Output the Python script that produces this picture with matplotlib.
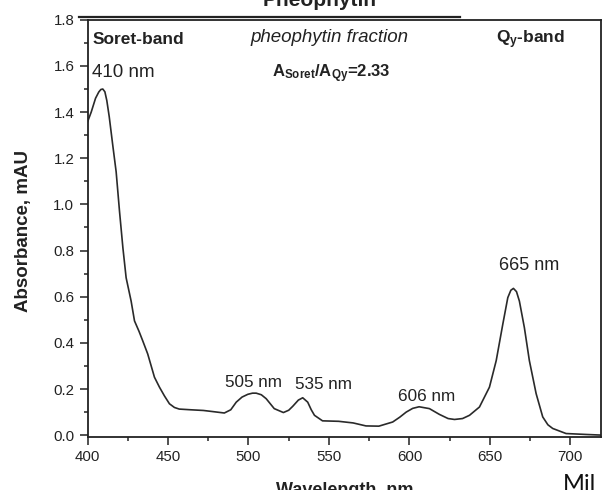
import matplotlib
matplotlib.use('Agg')
import matplotlib.pyplot as plt
from matplotlib.ticker import MultipleLocator, FormatStrFormatter
from matplotlib.patches import Rectangle
from matplotlib.lines import Line2D

# absorption spectrum
wavelength = [400, 402.3, 405, 407, 408.3, 409.5, 410.8, 412, 413.5, 415.7, 417.8, 419.9,
              422, 424, 427.1, 429.2, 432, 434.3, 437.4, 441.6, 444.7, 447.8, 450.9, 454,
              457, 464, 472, 478, 485, 489, 492.4, 496, 499.6, 502.5, 504.8, 508, 511, 516,
              521.7, 525, 527.5, 531, 533.7, 536.8, 539, 541, 546, 556, 565, 573, 581,
              589.6, 594, 598, 602, 606, 612.4, 618.6, 624, 628, 633, 637.3, 643.5, 649.7,
              653.9, 658, 661.1, 663, 664.6, 666.5, 668.3, 671.4, 674.5, 678.7, 682.8, 686,
              689, 697.3, 709.7, 720]
absorbance = [1.357, 1.40, 1.46, 1.487, 1.498, 1.50, 1.488, 1.45, 1.38, 1.256, 1.141, 0.969,
              0.811, 0.682, 0.581, 0.495, 0.45, 0.409, 0.352, 0.251, 0.208, 0.17, 0.136,
              0.12, 0.113, 0.110, 0.107, 0.102, 0.096, 0.11, 0.143, 0.165, 0.177, 0.182,
              0.182, 0.175, 0.158, 0.115, 0.098, 0.108, 0.125, 0.152, 0.162, 0.143, 0.11,
              0.086, 0.062, 0.060, 0.053, 0.040, 0.039, 0.057, 0.078, 0.10, 0.116, 0.123,
              0.115, 0.09, 0.072, 0.068, 0.072, 0.086, 0.122, 0.208, 0.323, 0.481, 0.596,
              0.628, 0.636, 0.622, 0.581, 0.466, 0.323, 0.18, 0.079, 0.045, 0.029, 0.007,
              0.003, 0.0]

peak_labels = ['410 nm', '505 nm', '535 nm', '606 nm', '665 nm']
peak_x = [403.1, 485.7, 529.2, 592.9, 655.6]
peak_y = [1.553, 0.208, 0.198, 0.150, 0.716]
peak_size = [13.5, 12.3, 12.3, 12.3, 13]

plt.rcParams['font.family'] = ['Liberation Sans', 'DejaVu Sans']
plt.rcParams['mathtext.fontset'] = 'custom'
plt.rcParams['mathtext.rm'] = 'Liberation Sans'
plt.rcParams['mathtext.it'] = 'Liberation Sans:italic'
plt.rcParams['mathtext.bf'] = 'Liberation Sans:bold'

W, H = 606, 490
fig = plt.figure(figsize=(W / 100, H / 100), dpi=100)
ax = fig.add_axes([87.5 / W, 1 - 437 / H, (601 - 87.5) / W, (437 - 19.8) / H])

ax.plot(wavelength, absorbance, color='#2a2a2a', lw=1.2)

ax.set_xlim(400, 719)
ax.set_ylim(-0.008, 1.8)
ax.xaxis.set_major_locator(MultipleLocator(50))
ax.xaxis.set_minor_locator(MultipleLocator(25))
ax.yaxis.set_major_locator(MultipleLocator(0.2))
ax.yaxis.set_minor_locator(MultipleLocator(0.1))
ax.yaxis.set_major_formatter(FormatStrFormatter('%.1f'))
ax.tick_params(which='major', direction='out', length=5.5, width=1.1, labelsize=10.8,
               pad=4, color='#222222', labelcolor='#222222')
ax.tick_params(which='minor', direction='out', length=2.6, width=1.1, color='#222222')
for s in ax.spines.values():
    s.set_linewidth(1.3)
    s.set_color('#222222')

for lab, x, y, fs in zip(peak_labels, peak_x, peak_y, peak_size):
    ax.text(x, y, lab, fontsize=fs, color='#222222', ha='left', va='baseline')

ax.text(403.4, 1.696, 'Soret-band', fontsize=12.5, weight='bold', color='#222222',
        va='baseline')
ax.text(550.6, 1.705, 'pheophytin fraction', fontsize=13.5, style='italic',
        color='#222222', ha='center', va='baseline')
ax.text(514.6, 1.549, r'$\mathbf{A_{Soret}/A_{Qy}}$=2.33', fontsize=12, weight='bold',
        color='#222222', va='baseline')
ax.text(653.7, 1.696, r'$\mathbf{Q_{y}}$-band', fontsize=12.5, weight='bold',
        color='#222222', va='baseline')

# slide overlay: white title box with a rule under it
fig.patches.append(Rectangle((0, 1 - 15.5 / H), 460 / W, 15.5 / H,
                             transform=fig.transFigure, facecolor='white',
                             edgecolor='none', zorder=5))
fig.add_artist(Line2D([79 / W, 460 / W], [1 - 17.2 / H] * 2, color='#222222',
                      lw=1.6, zorder=6))
fig.text(319.5 / W, 1 - 6 / H, 'Pheophytin', fontsize=15, weight='bold',
         color='#222222', ha='center', va='baseline', zorder=7)

fig.text(344.5 / W, 1 - 494.6 / H, 'Wavelength, nm', fontsize=13, weight='bold',
         color='#222222', ha='center', va='baseline')
fig.text(24 / W, 1 - 231 / H, 'Absorbance, mAU', fontsize=13.5, weight='bold',
         color='#222222', ha='center', va='center', rotation=90)
fig.text(562.5 / W, 1 - 491 / H, 'Mil', fontsize=17, family=['Lato', 'DejaVu Sans'],
         color='#111111', ha='left', va='baseline')

fig.savefig('out.png', dpi=100)
